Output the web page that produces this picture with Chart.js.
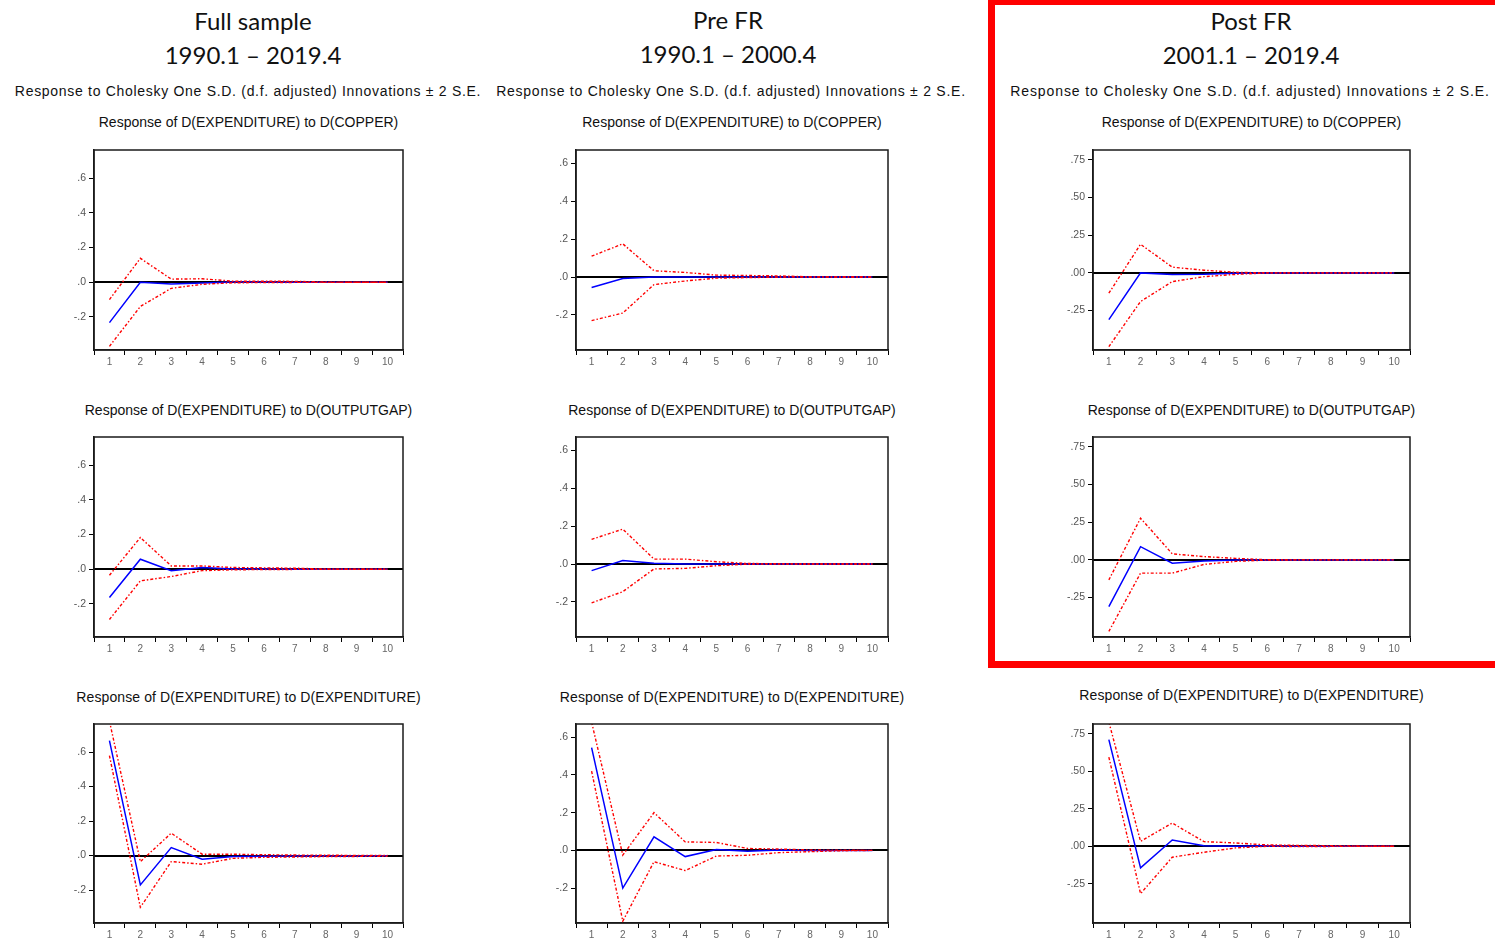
<!DOCTYPE html>
<html>
<head>
<meta charset="utf-8">
<title>Impulse responses of D(EXPENDITURE)</title>
<script src="https://cdn.jsdelivr.net/npm/chart.js@4.4.0/dist/chart.umd.min.js"></script>
<style>
  html, body { margin: 0; padding: 0; background: #fff; }
  body { position: relative; width: 1495px; height: 943px; overflow: hidden;
         font-family: "Liberation Sans", Arial, sans-serif; color: #111; }
  .hdr { position: absolute; transform: translate(-50%, -50%); white-space: nowrap;
         font-family: Lato, "Open Sans", sans-serif; font-size: 24px; color: #111; }
  .sub { position: absolute; transform: translate(-50%, -50%); white-space: nowrap;
         font-size: 14px; letter-spacing: 0.7px; color: #111; }
  .ttl { position: absolute; transform: translate(-50%, -50%); white-space: nowrap;
         font-size: 14px; letter-spacing: 0px; color: #111; }
  canvas { position: absolute; }
  #highlight { position: absolute; left: 988px; top: -2px; width: 620px; height: 670px;
               box-sizing: border-box; border: 7px solid #ff0000; }
</style>
</head>
<body>
<div id="highlight"></div>

<script>
// Forecast horizon (periods after the shock)
const horizon = ['1', '2', '3', '4', '5', '6', '7', '8', '9', '10'];

// Sample headings
const sampleNames = ['Full sample', 'Pre FR', 'Post FR'];
const samplePeriods = ['1990.1 \u2013 2019.4', '1990.1 \u2013 2000.4', '2001.1 \u2013 2019.4'];
const subtitle = 'Response to Cholesky One S.D. (d.f. adjusted) Innovations \u00b1 2 S.E.';
const shockNames = ['D(COPPER)', 'D(OUTPUTGAP)', 'D(EXPENDITURE)'];

// Y-axis tick values per sample
const ticksNarrow = [-0.2, 0, 0.2, 0.4, 0.6];
const ticksWide = [-0.25, 0, 0.25, 0.5, 0.75];

// Response of D(EXPENDITURE) to D(COPPER)
const fullCopperIrf = [-0.233, 0.000, -0.010, -0.004, 0.001, 0.001, 0.000, 0.000, 0.000, 0.000];
const fullCopperUp  = [-0.100, 0.138, 0.018, 0.020, 0.006, 0.006, 0.005, 0.001, 0.000, 0.000];
const fullCopperLo  = [-0.370, -0.140, -0.035, -0.012, -0.003, -0.002, -0.001, -0.001, 0.000, 0.000];

const preCopperIrf = [-0.055, -0.008, 0.000, 0.000, 0.000, 0.000, 0.000, 0.000, 0.000, 0.000];
const preCopperUp  = [0.110, 0.175, 0.033, 0.024, 0.010, 0.008, 0.006, 0.001, 0.000, 0.000];
const preCopperLo  = [-0.230, -0.190, -0.040, -0.021, -0.006, -0.003, -0.001, 0.000, 0.000, 0.000];

const postCopperIrf = [-0.310, 0.000, -0.011, -0.009, -0.002, 0.000, 0.000, 0.000, 0.000, 0.000];
const postCopperUp  = [-0.135, 0.190, 0.038, 0.018, 0.004, 0.000, 0.000, 0.000, 0.000, 0.000];
const postCopperLo  = [-0.490, -0.190, -0.058, -0.025, -0.010, 0.000, 0.000, 0.000, 0.000, 0.000];

// Response of D(EXPENDITURE) to D(OUTPUTGAP)
const fullGapIrf = [-0.163, 0.058, -0.008, 0.010, 0.002, 0.001, 0.000, 0.000, 0.000, 0.000];
const fullGapUp  = [-0.035, 0.183, 0.019, 0.019, 0.010, 0.008, 0.006, 0.001, 0.000, 0.000];
const fullGapLo  = [-0.290, -0.067, -0.042, -0.008, -0.003, -0.002, -0.001, 0.000, 0.000, 0.000];

const preGapIrf = [-0.035, 0.018, 0.004, 0.000, 0.000, 0.000, 0.000, 0.000, 0.000, 0.000];
const preGapUp  = [0.130, 0.184, 0.026, 0.026, 0.012, 0.003, 0.001, 0.000, 0.000, 0.000];
const preGapLo  = [-0.205, -0.146, -0.026, -0.023, -0.009, -0.001, 0.000, 0.000, 0.000, 0.000];

const postGapIrf = [-0.310, 0.088, -0.022, -0.007, 0.000, 0.000, 0.000, 0.000, 0.000, 0.000];
const postGapUp  = [-0.133, 0.277, 0.040, 0.022, 0.010, 0.001, 0.000, 0.000, 0.000, 0.000];
const postGapLo  = [-0.475, -0.088, -0.088, -0.030, -0.010, -0.001, 0.000, 0.000, 0.000, 0.000];

// Response of D(EXPENDITURE) to D(EXPENDITURE)
const fullExpIrf = [0.667, -0.170, 0.046, -0.021, -0.006, -0.004, -0.003, -0.002, -0.002, -0.001];
const fullExpUp  = [0.780, -0.035, 0.130, 0.008, 0.008, 0.005, 0.003, 0.002, 0.001, 0.001];
const fullExpLo  = [0.580, -0.300, -0.035, -0.050, -0.016, -0.010, -0.008, -0.006, -0.005, -0.004];

const preExpIrf = [0.545, -0.200, 0.072, -0.033, 0.005, -0.004, 0.002, 0.000, 0.000, 0.000];
const preExpUp  = [0.680, -0.025, 0.200, 0.045, 0.042, 0.010, 0.007, 0.002, 0.001, 0.000];
const preExpLo  = [0.420, -0.375, -0.060, -0.107, -0.030, -0.026, -0.012, -0.007, -0.002, 0.000];

const postExpIrf = [0.712, -0.144, 0.042, 0.004, 0.000, 0.004, 0.001, 0.000, 0.000, 0.000];
const postExpUp  = [0.830, 0.033, 0.155, 0.031, 0.022, 0.009, 0.006, 0.004, 0.001, 0.000];
const postExpLo  = [0.595, -0.316, -0.073, -0.040, -0.011, 0.000, -0.002, -0.001, 0.000, 0.000];

// Layout of the grid: plot frame edges per column and row
const columns = [
  { left: 94,   right: 403,  center: 253,  ticks: ticksNarrow, digits: 1, min: -0.391, max: 0.763 },
  { left: 576,  right: 888,  center: 728,  ticks: ticksNarrow, digits: 1, min: -0.385, max: 0.670 },
  { left: 1093, right: 1410, center: 1251, ticks: ticksWide,   digits: 2, min: -0.512, max: 0.816 }
];
const rows = [
  { top: 150, bottom: 350, titleY: 122 },
  { top: 437, bottom: 637, titleY: 410 },
  { top: 724, bottom: 923, titleY: 697 }
];

const panels = [
  [[fullCopperIrf, fullCopperUp, fullCopperLo], [preCopperIrf, preCopperUp, preCopperLo], [postCopperIrf, postCopperUp, postCopperLo]],
  [[fullGapIrf, fullGapUp, fullGapLo],          [preGapIrf, preGapUp, preGapLo],          [postGapIrf, postGapUp, postGapLo]],
  [[fullExpIrf, fullExpUp, fullExpLo],          [preExpIrf, preExpUp, preExpLo],          [postExpIrf, postExpUp, postExpLo]]
];

function addText(cls, text, x, y, spacing) {
  const d = document.createElement('div');
  d.className = cls;
  d.textContent = text;
  d.style.left = x + 'px';
  d.style.top = y + 'px';
  if (spacing !== undefined) d.style.letterSpacing = spacing + 'px';
  document.body.appendChild(d);
}

// Column headings and subtitles
const subCenters = [248, 731, 1250];
const subSpacing = [0.7, 0.75, 0.9];
columns.forEach((c, i) => {
  addText('hdr', sampleNames[i], c.center, i === 1 ? 19 : 20);
  addText('hdr', samplePeriods[i], c.center, i === 1 ? 53 : 54);
  addText('sub', subtitle, subCenters[i], 91, subSpacing[i]);
});

// Frame around the plot area and the zero reference line
const framePlugin = {
  id: 'irfFrame',
  beforeDatasetsDraw(chart) {
    const { ctx, chartArea: a, scales: { y } } = chart;
    const y0 = Math.round(y.getPixelForValue(0));
    ctx.save();
    ctx.strokeStyle = '#000';
    ctx.lineWidth = 2;
    ctx.beginPath();
    ctx.moveTo(a.left, y0);
    ctx.lineTo(a.right, y0);
    ctx.stroke();
    ctx.restore();
  },
  afterDraw(chart) {
    const { ctx, chartArea: a } = chart;
    ctx.save();
    ctx.strokeStyle = '#1a1a1a';
    ctx.lineWidth = 1.5;
    ctx.strokeRect(a.left, a.top, a.right - a.left, a.bottom - a.top);
    ctx.restore();
  }
};

const Y_AXIS_W = 40, X_AXIS_H = 22, PAD = 4;

rows.forEach((r, ri) => {
  columns.forEach((c, ci) => {
    const [irf, up, lo] = panels[ri][ci];
    const title = 'Response of D(EXPENDITURE) to ' + shockNames[ri];
    addText('ttl', title, (c.left + c.right) / 2, (ri === 2 && ci === 2) ? 695 : r.titleY, ri === 2 ? 0.1 : 0);

    const plotW = c.right - c.left;
    const plotH = r.bottom - r.top;
    const cv = document.createElement('canvas');
    const w = plotW + Y_AXIS_W + PAD;
    const h = plotH + X_AXIS_H + PAD;
    cv.width = w; cv.height = h;
    cv.style.width = w + 'px'; cv.style.height = h + 'px';
    cv.style.left = (c.left - Y_AXIS_W) + 'px';
    cv.style.top = (r.top - PAD) + 'px';
    document.body.appendChild(cv);

    const redLine = {
      borderColor: '#ff0000', borderWidth: 1.4, borderDash: [3, 2, 1.5, 2],
      pointRadius: 0, tension: 0, fill: false
    };

    const chart = new Chart(cv, {
      type: 'line',
      data: {
        labels: horizon,
        datasets: [
          Object.assign({ label: '+2 S.E.', data: up }, redLine),
          Object.assign({ label: '-2 S.E.', data: lo }, redLine),
          { label: 'Response', data: irf, borderColor: '#0000ff', borderWidth: 1.5,
            pointRadius: 0, tension: 0, fill: false }
        ]
      },
      options: {
        responsive: false,
        maintainAspectRatio: false,
        animation: false,
        devicePixelRatio: 1,
        layout: { padding: { top: PAD, right: PAD, left: 0, bottom: 0 } },
        plugins: { legend: { display: false }, tooltip: { enabled: false }, title: { display: false } },
        scales: {
          x: {
            type: 'category',
            offset: true,
            afterFit(s) { s.height = X_AXIS_H; s.paddingLeft = 0; s.paddingRight = 0; },
            grid: { offset: true, drawOnChartArea: false, drawTicks: true, tickLength: 5, color: '#000', lineWidth: 1 },
            border: { display: true, color: '#1a1a1a', width: 1.5 },
            ticks: { color: '#666', padding: 1, maxRotation: 0, autoSkip: false,
                      font: { family: '"Liberation Sans", Arial, sans-serif', size: 10 } }
          },
          y: {
            min: c.min, max: c.max,
            afterFit(s) { s.width = Y_AXIS_W; s.paddingTop = 0; s.paddingBottom = 0; },
            afterBuildTicks(s) { s.ticks = c.ticks.map(v => ({ value: v })); },
            grid: { drawOnChartArea: false, drawTicks: true, tickLength: 5, color: '#000', lineWidth: 1 },
            border: { display: true, color: '#1a1a1a', width: 1.5 },
            ticks: {
              color: '#555', padding: 3,
              font: { family: '"Liberation Sans", Arial, sans-serif', size: 10.5 },
              callback(v) { return Number(v).toFixed(c.digits).replace('0.', '.'); }
            }
          }
        }
      },
      plugins: [framePlugin]
    });

    // Keep the plot area exactly on its frame position
    let ca = chart.chartArea;
    const dw = plotW - (ca.right - ca.left);
    const dh = plotH - (ca.bottom - ca.top);
    if (Math.abs(dw) > 0.5 || Math.abs(dh) > 0.5) {
      chart.resize(w + dw, h + dh);
      ca = chart.chartArea;
    }
    cv.style.left = (c.left - ca.left) + 'px';
    cv.style.top = (r.top - ca.top) + 'px';
  });
});
</script>
</body>
</html>
